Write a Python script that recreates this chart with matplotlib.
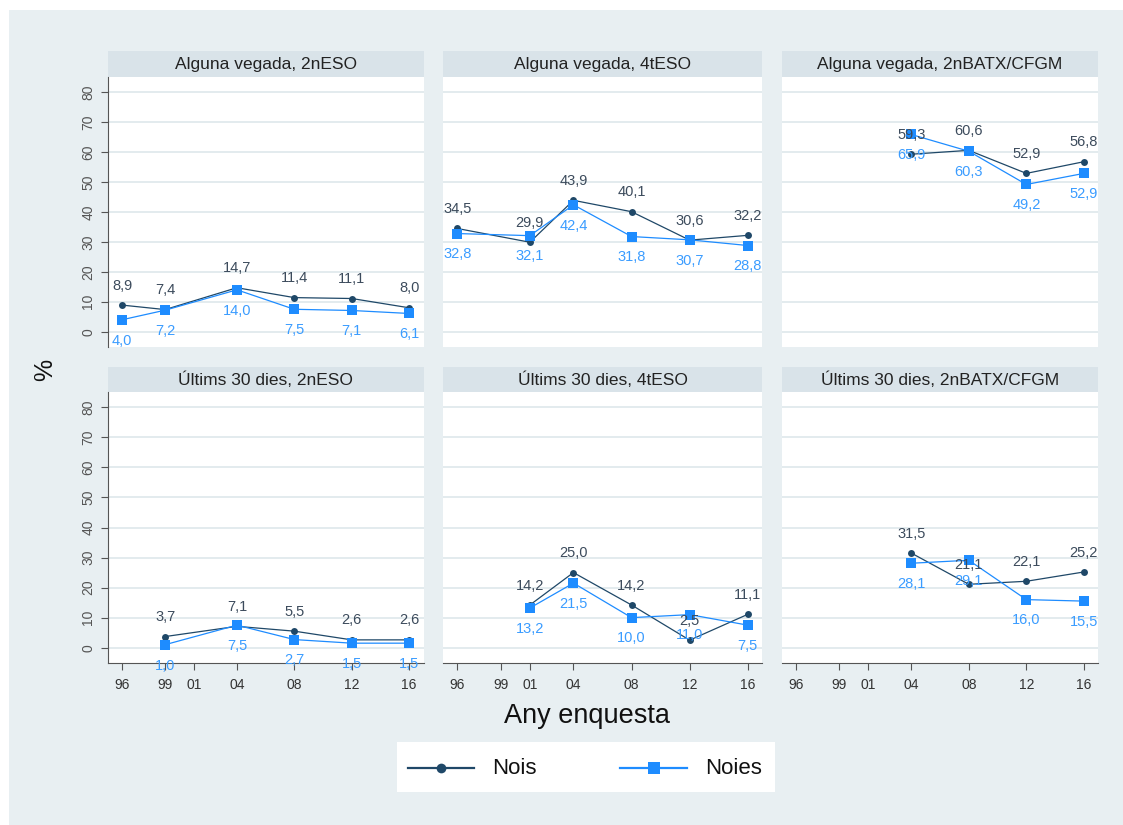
import numpy as np
import matplotlib
matplotlib.use("Agg")
import matplotlib.pyplot as plt
from matplotlib.patches import Rectangle

plt.rcParams['font.family'] = ['Liberation Sans', 'DejaVu Sans']

# Survey years and their tick labels
years = [1996, 1999, 2001, 2004, 2008, 2012, 2016]
year_labels = ["96", "99", "01", "04", "08", "12", "16"]

nan = np.nan
panel_titles = [
    "Alguna vegada, 2nESO", "Alguna vegada, 4tESO", "Alguna vegada, 2nBATX/CFGM",
    "Últims 30 dies, 2nESO", "Últims 30 dies, 4tESO", "Últims 30 dies, 2nBATX/CFGM",
]

# Percentages by year (nan = no survey for that group)
nois_alguna_2eso = [8.9, 7.4, nan, 14.7, 11.4, 11.1, 8.0]
noies_alguna_2eso = [4.0, 7.2, nan, 14.0, 7.5, 7.1, 6.1]
nois_alguna_4eso = [34.5, nan, 29.9, 43.9, 40.1, 30.6, 32.2]
noies_alguna_4eso = [32.8, nan, 32.1, 42.4, 31.8, 30.7, 28.8]
nois_alguna_batx = [nan, nan, nan, 59.3, 60.6, 52.9, 56.8]
noies_alguna_batx = [nan, nan, nan, 65.9, 60.3, 49.2, 52.9]
nois_30d_2eso = [nan, 3.7, nan, 7.1, 5.5, 2.6, 2.6]
noies_30d_2eso = [nan, 1.0, nan, 7.5, 2.7, 1.5, 1.5]
nois_30d_4eso = [nan, nan, 14.2, 25.0, 14.2, 2.5, 11.1]
noies_30d_4eso = [nan, nan, 13.2, 21.5, 10.0, 11.0, 7.5]
nois_30d_batx = [nan, nan, nan, 31.5, 21.1, 22.1, 25.2]
noies_30d_batx = [nan, nan, nan, 28.1, 29.1, 16.0, 15.5]

nois_series = [nois_alguna_2eso, nois_alguna_4eso, nois_alguna_batx,
               nois_30d_2eso, nois_30d_4eso, nois_30d_batx]
noies_series = [noies_alguna_2eso, noies_alguna_4eso, noies_alguna_batx,
                noies_30d_2eso, noies_30d_4eso, noies_30d_batx]

y_ticks = [0, 10, 20, 30, 40, 50, 60, 70, 80]

BG = "#e8eff2"
STRIP = "#d9e3e9"
GRID = "#e3ebee"
NOIS = "#1f4868"
NOIES = "#1e8cff"
NOIS_TXT = "#3c4b5c"
NOIES_TXT = "#3a9cff"
AXIS = "#555555"

W, H = 1123, 825
fig = plt.figure(figsize=(W / 100, H / 100), dpi=100, facecolor="white")
fig.patches.append(Rectangle((9 / W, 0), 1, 1 - 10 / H, transform=fig.transFigure,
                             facecolor=BG, edgecolor="none", zorder=-10))


def px_rect(x0, y0, x1, y1):
    return [x0 / W, 1 - y1 / H, (x1 - x0) / W, (y1 - y0) / H]


def fmt(v):
    return f"{v:.1f}".replace(".", ",")


col_x = [(107.7, 423.5), (442.7, 762.3), (781.7, 1098.3)]
row_y = [((51, 77.3), (77.3, 346.7)), ((366.7, 392.3), (392.3, 662.7))]

for i in range(6):
    r, c = divmod(i, 3)
    x0, x1 = col_x[c]
    (s0, s1), (p0, p1) = row_y[r]

    # title strip
    sax = fig.add_axes(px_rect(x0, s0, x1, s1))
    sax.set_facecolor(STRIP)
    sax.set_xticks([]); sax.set_yticks([])
    for sp in sax.spines.values():
        sp.set_visible(False)
    sax.text(0.5, 0.5, panel_titles[i], ha="center", va="center",
             fontsize=12.5, color="#222222", transform=sax.transAxes)

    ax = fig.add_axes(px_rect(x0, p0, x1, p1))
    ax.set_facecolor("white")
    ax.set_xlim(1995, 2017)
    ax.set_ylim(-5, 85)
    ax.set_yticks(y_ticks)
    ax.set_xticks(years)
    ax.grid(axis="y", color=GRID, linewidth=1.4, zorder=0)
    ax.set_axisbelow(True)
    for sp in ["top", "right"]:
        ax.spines[sp].set_visible(False)

    if c == 0:
        ax.spines["left"].set_color(AXIS)
        ax.tick_params(axis="y", direction="out", length=5, color=AXIS,
                       labelsize=10, labelcolor="#555555", pad=4)
        for lab in ax.get_yticklabels():
            lab.set_rotation(90)
            lab.set_va("center")
    else:
        ax.spines["left"].set_visible(False)
        ax.tick_params(axis="y", left=False, labelleft=False)

    if r == 1:
        ax.spines["bottom"].set_color(AXIS)
        ax.set_xticklabels(year_labels)
        ax.tick_params(axis="x", direction="out", length=5, color=AXIS,
                       labelsize=10, labelcolor="#333333", pad=6)
    else:
        ax.spines["bottom"].set_visible(False)
        ax.tick_params(axis="x", bottom=False, labelbottom=False)

    yr = np.array(years, dtype=float)
    for vals, col, mk, ms, txtcol, off in [
        (nois_series[i], NOIS, "o", 5, NOIS_TXT, 14),
        (noies_series[i], NOIES, "s", 6.5, NOIES_TXT, -15),
    ]:
        v = np.array(vals, dtype=float)
        ok = ~np.isnan(v)
        ax.plot(yr[ok], v[ok], color=col, linewidth=0.9, marker=mk,
                markersize=ms, markeredgewidth=0, zorder=3, clip_on=False)
        for xv, yv in zip(yr[ok], v[ok]):
            ax.annotate(fmt(yv), (xv, yv), xytext=(0, off), textcoords="offset points",
                        ha="center", va="center", fontsize=10.5, color=txtcol,
                        zorder=4, annotation_clip=False)

fig.text(45 / W, 1 - 370 / H, "%", rotation=90, ha="center", va="center",
         fontsize=18, color="#111111")
fig.text(587 / W, 1 - 716 / H, "Any enquesta", ha="center", va="center",
         fontsize=19.5, color="#111111")

# legend box
lax = fig.add_axes(px_rect(397, 742, 775, 792))
lax.set_facecolor("white")
lax.set_xticks([]); lax.set_yticks([])
for sp in lax.spines.values():
    sp.set_visible(False)
lax.set_xlim(397, 775)
lax.set_ylim(792, 742)
lax.plot([408, 441, 474], [768, 768, 768], color=NOIS, linewidth=1.6,
         marker="o", markersize=7, markevery=[1], markeredgewidth=0)
lax.text(492, 768, "Nois", ha="left", va="center", fontsize=16, color="#111111")
lax.plot([620, 654, 687], [768, 768, 768], color=NOIES, linewidth=1.6,
         marker="s", markersize=8, markevery=[1], markeredgewidth=0)
lax.text(705, 768, "Noies", ha="left", va="center", fontsize=16, color="#111111")

fig.savefig("out.png", dpi=100, facecolor=fig.get_facecolor())
